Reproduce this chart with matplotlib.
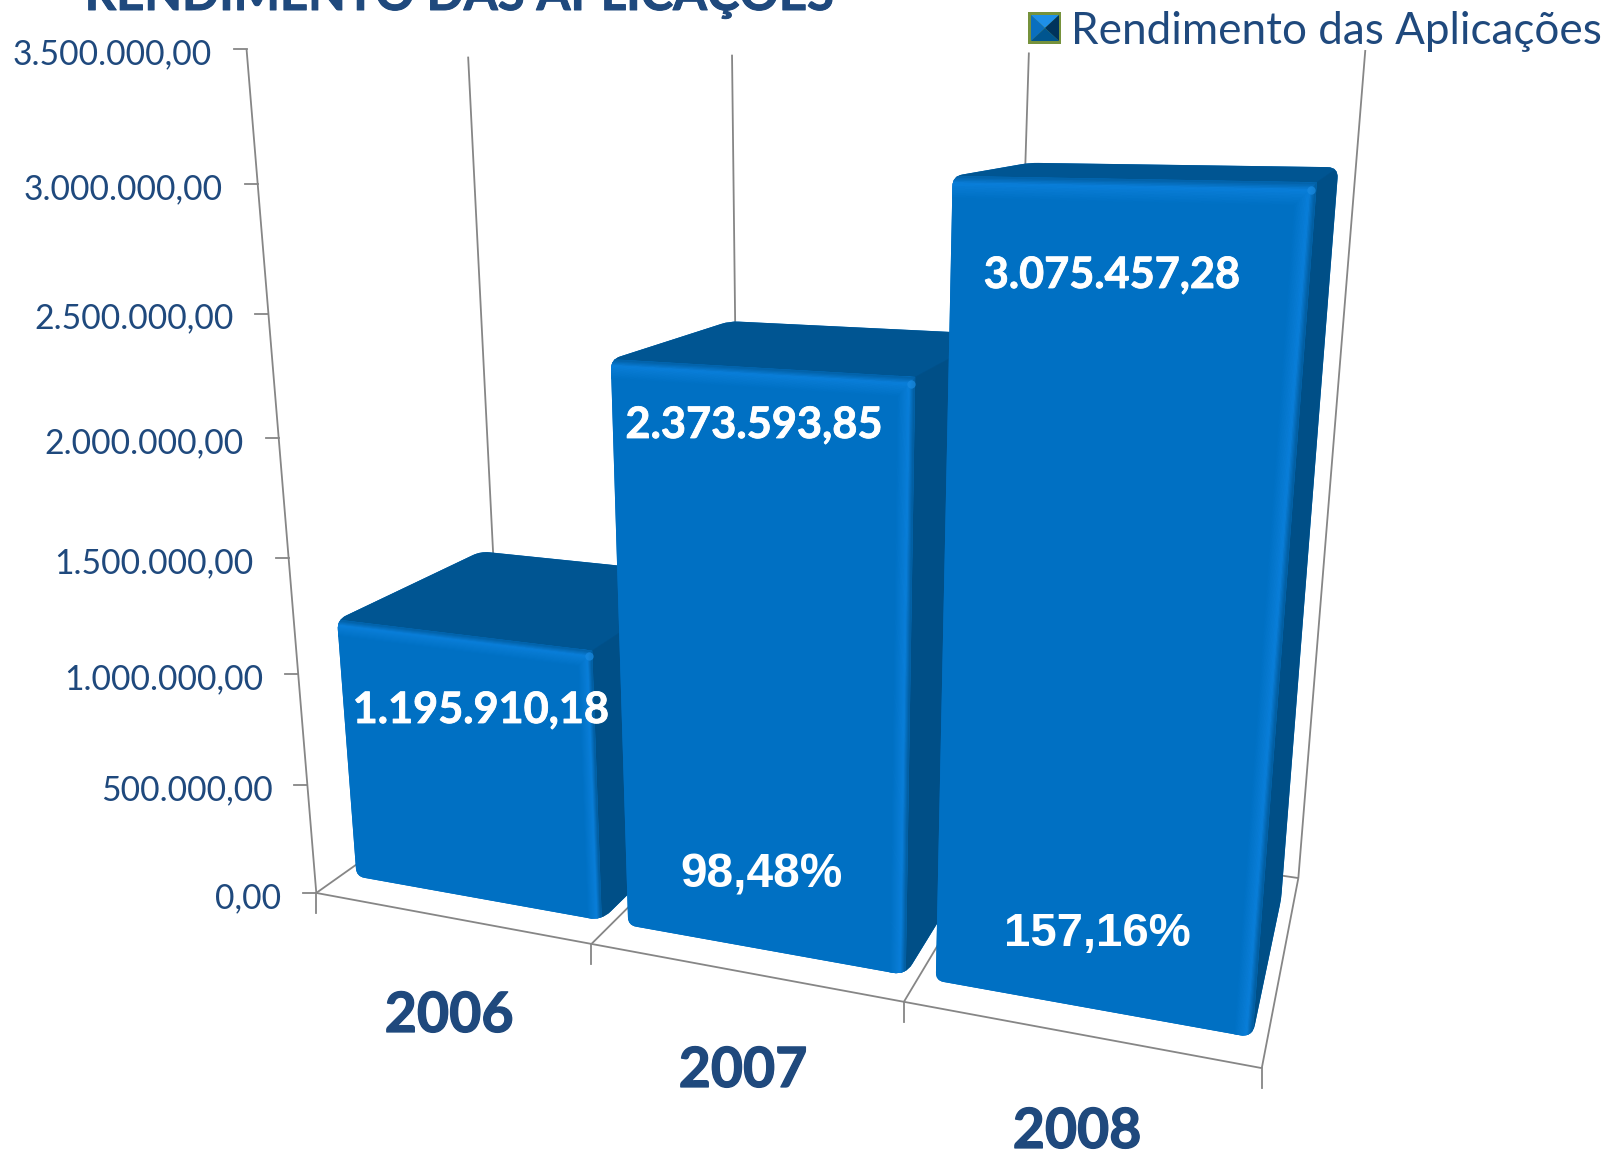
import numpy as np
import matplotlib
matplotlib.use("Agg")
import matplotlib.pyplot as plt
from matplotlib.patches import Polygon, PathPatch
from matplotlib.path import Path
import matplotlib.patheffects as pe

# ---- data ----
categories = ["2006", "2007", "2008"]
values = [1195910.18, 2373593.85, 3075457.28]
value_labels = ["1.195.910,18", "2.373.593,85", "3.075.457,28"]
growth_labels = ["98,48%", "157,16%"]
tick_values = [0, 500000, 1000000, 1500000, 2000000, 2500000, 3000000, 3500000]
tick_labels = ["0,00", "500.000,00", "1.000.000,00", "1.500.000,00",
               "2.000.000,00", "2.500.000,00", "3.000.000,00", "3.500.000,00"]
title = "RENDIMENTO DAS APLICAÇÕES"
legend_label = "Rendimento das Aplicações"

# ---- style ----
VMAX = 3500000.0
NAVY = "#1F497D"
GREY = "#868686"
rgb = matplotlib.colors.to_rgb
FRONT = np.array(rgb("#0070C3"))
TOPC = np.array(rgb("#005592"))
SIDEC = np.array(rgb("#004F87"))
LIGHT = np.array(rgb("#0A7FDA"))
X_INSET_L = 0.053
X_INSET_R = 0.04
Z_FRONT = 0.122
Z_BACK = 0.855
TOP_TRIM = 10000.0  # the rounded top edge sits a little under the nominal height

# ---- camera calibration: (category pos, depth, value/VMAX) -> pixel ----
calib = [
    ((0, 0, 0), (316, 893)), ((0, 0, 1), (247, 49)),
    ((1, 0, 0), (592, 944)), ((2, 0, 0), (903, 1002)), ((3, 0, 0), (1262, 1068)),
    ((0, 1, 0), (503, 760)), ((1, 1, 0), (741, 795)),
    ((2, 1, 0), (1006, 835)), ((3, 1, 0), (1297, 878)),
    ((0, 1, 1), (468, 57)), ((1, 1, 1), (732, 55)),
    ((2, 1, 1), (1028, 52)), ((3, 1, 1), (1366, 50)),
]
rows = []
for (X, Z, V), (u, v) in calib:
    u, v = u / 1000.0, v / 1000.0
    rows.append([X, Z, V, 1, 0, 0, 0, 0, -u * X, -u * Z, -u * V, -u])
    rows.append([0, 0, 0, 0, X, Z, V, 1, -v * X, -v * Z, -v * V, -v])
P = np.linalg.svd(np.array(rows, float))[2][-1].reshape(3, 4)


def proj(x, z, val):
    h = P @ np.array([x, z, val / VMAX, 1.0])
    return h[0] / h[2] * 1000.0, h[1] / h[2] * 1000.0


fig = plt.figure(figsize=(16.10, 11.54), dpi=100)
ax = fig.add_axes([0, 0, 1, 1])
ax.set_xlim(0, 1610)
ax.set_ylim(1154, 0)
ax.axis("off")


def seg(a, b):
    pa, pb = proj(*a), proj(*b)
    ax.plot([pa[0], pb[0]], [pa[1], pb[1]], color=GREY, lw=1.3, solid_capstyle="butt")


# walls and floor lines
seg((0, 0, 0), (0, 0, VMAX))
seg((3, 0, 0), (0, 0, 0))
seg((3, 0, 0), (3, 1, 0))
seg((3, 1, 0), (3, 1, VMAX))
seg((0, 0, 0), (0, 1, 0))
seg((3, 1, 0), (2.8, 1, 0))
for i in range(3):
    seg((i, 1, 0), (i, 1, VMAX))
for i in (1, 2):
    seg((i, 0, 0), (i, 1, 0))
for t in tick_values:
    px, py = proj(0, 0, t)
    ax.plot([px - 13, px], [py, py], color=GREY, lw=1.3)
for i in range(4):
    px, py = proj(i, 0, 0)
    ax.plot([px, px], [py, py + 20], color=GREY, lw=1.3)


def rounded(pts, radii):
    """Closed path through projected corners with each corner rounded."""
    pts = [np.array(p, float) for p in pts]
    n = len(pts)
    verts, codes = [], []
    for k in range(n):
        p, prev, nxt = pts[k], pts[k - 1], pts[(k + 1) % n]
        r = radii[k]
        a = p + (prev - p) / np.linalg.norm(prev - p) * r
        b = p + (nxt - p) / np.linalg.norm(nxt - p) * r
        verts.append(a)
        codes.append(Path.MOVETO if k == 0 else Path.LINETO)
        verts += [p, b]
        codes += [Path.CURVE3, Path.CURVE3]
    verts.append(verts[0])
    codes.append(Path.CLOSEPOLY)
    return Path(np.array(verts), codes)


# bars, far-left to near-right so each one hides the previous side face
for i, val in enumerate(values):
    x0, x1 = i + X_INSET_L, i + 1 - X_INSET_R
    z0, z1 = Z_FRONT, Z_BACK
    h = val - TOP_TRIM
    base = 3 + i
    outline = [proj(x0, z0, 0), proj(x1, z0, 0), proj(x1, z1, 0),
               proj(x1, z1, h), proj(x0, z1, h), proj(x0, z0, h)]
    sil = PathPatch(rounded(outline, [8, 13, 6, 11, 9, 10]), facecolor=tuple(FRONT),
                    edgecolor="none", zorder=base)
    ax.add_patch(sil)

    def face(pts, color):
        p = Polygon([proj(*q) for q in pts], closed=True, facecolor=tuple(color),
                    edgecolor=tuple(color), linewidth=0.4, zorder=base)
        ax.add_patch(p)
        p.set_clip_path(sil)

    face([(x0, z0, h), (x1, z0, h), (x1, z1, h), (x0, z1, h)], TOPC)
    face([(x1, z0, 0), (x1, z1, 0), (x1, z1, h), (x1, z0, h)], SIDEC)
    face([(x0, z0, 0), (x1, z0, 0), (x1, z0, h), (x0, z0, h)], FRONT)

    def shade(t, edge):
        # t = 0 inside the face, t = 1 on the rolled edge
        if t < 0.7:
            return FRONT + (LIGHT - FRONT) * (t / 0.7)
        return LIGHT + (edge - LIGHT) * ((t - 0.7) / 0.3) * 0.75

    n = 16
    dx, dv = 0.05, 75000.0
    for k in range(n):
        t0, t1 = k / n, (k + 1) / n
        c = shade((t0 + t1) / 2, SIDEC)
        face([(x1 - dx * (1 - t0), z0, 0), (x1 - dx * (1 - t1), z0, 0),
              (x1 - dx * (1 - t1), z0, h), (x1 - dx * (1 - t0), z0, h)], c)
    for k in range(n):
        t0, t1 = k / n, (k + 1) / n
        c = shade((t0 + t1) / 2, TOPC)
        face([(x0, z0, h - dv * (1 - t0)), (x1 - dx * (1 - t0), z0, h - dv * (1 - t0)),
              (x1 - dx * (1 - t1), z0, h - dv * (1 - t1)), (x0, z0, h - dv * (1 - t1))], c)
    cx, cy = proj(x1 - 0.012, z0, h - 25000.0)
    ax.plot([cx], [cy], "o", ms=6, color="#1A8BE2", mec="none", alpha=0.7, zorder=base)


def fit_text(x, y, s, width, ha="center", va="center", thick=0.0, **kw):
    t = ax.text(x, y, s, ha=ha, va=va, zorder=20, fontsize=20, **kw)
    w = t.get_window_extent(fig.canvas.get_renderer()).width
    t.set_fontsize(20 * width / w)
    if thick:
        t.set_path_effects([pe.withStroke(linewidth=thick, foreground=kw["color"])])
    return t


LATO = ["Lato", "DejaVu Sans"]
LIB = ["Liberation Sans", "DejaVu Sans"]

# title (cropped by the top of the picture, as in the source)
fit_text(459, 10, title, 749, va="baseline", family=LATO, fontweight="bold",
         color=NAVY, thick=0.7)

# value axis labels
for t, lab in zip(tick_values, tick_labels):
    px, py = proj(0, 0, t)
    ax.text(px - 35, py + 5, lab, ha="right", va="center", family=LATO,
            color=NAVY, fontsize=24.2, zorder=20)

# category labels
for s, (lx, ly) in zip(categories, [(449, 1016), (743, 1071), (1077, 1132)]):
    fit_text(lx, ly, s, 129, family=LATO, fontweight="bold", color=NAVY, thick=0.9)

# data labels
for s, (lx, ly) in zip(value_labels, [(481, 710), (754, 425), (1112, 275)]):
    fit_text(lx, ly, s, 257, family=LATO, fontweight="bold", color="white", thick=0.6)
for s, (lx, ly), w in zip(growth_labels, [(761, 875), (1097, 934)], [162, 187]):
    fit_text(lx, ly, s, w, family=LIB, fontweight="bold", color="white")

# legend
kx0, kx1, ky0, ky1 = 1028, 1061, 12, 44
ax.add_patch(Polygon([(kx0, ky0), (kx1, ky0), (kx1, ky1), (kx0, ky1)], facecolor="#76923C",
                     edgecolor="none", zorder=20))
ix0, ix1, iy0, iy1 = kx0 + 3, kx1 - 2, ky0 + 3, ky1 - 3
mx, my = (ix0 + ix1) / 2, (iy0 + iy1) / 2
for pts, c in [([(ix0, iy0), (ix1, iy0), (mx, my)], "#1E8FE8"),
               ([(ix0, iy0), (ix0, iy1), (mx, my)], "#0A6FBF"),
               ([(ix1, iy0), (ix1, iy1), (mx, my)], "#00335C"),
               ([(ix0, iy1), (ix1, iy1), (mx, my)], "#00558F")]:
    ax.add_patch(Polygon(pts, facecolor=c, edgecolor="none", zorder=21))
fit_text(1071, 31, legend_label, 530, ha="left", family=LATO, color=NAVY)

fig.savefig("out.png", dpi=100, facecolor="white")
